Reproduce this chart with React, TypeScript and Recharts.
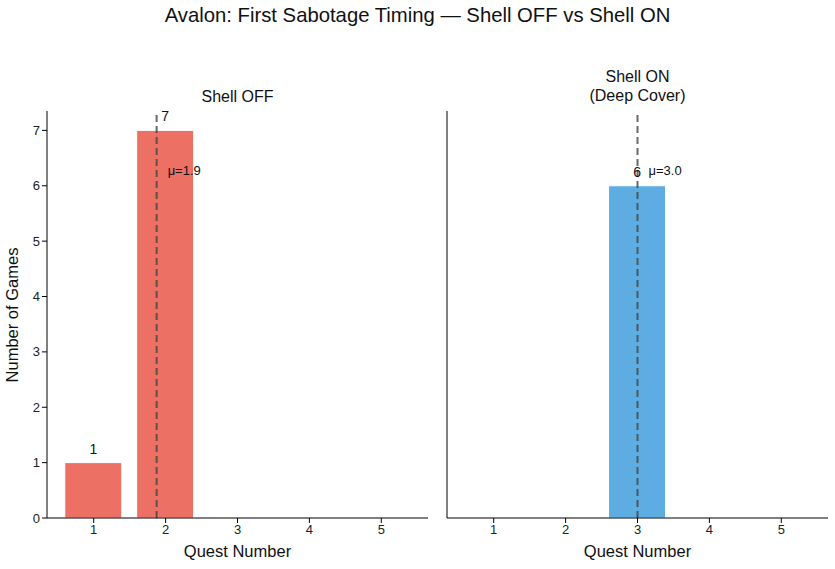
import React from 'react';
import {
  BarChart, Bar, XAxis, YAxis, ReferenceLine, LabelList,
} from 'recharts';

const quests = [1, 2, 3, 4, 5];
const shellOffCounts = [1, 7, 0, 0, 0];
const shellOnCounts = [0, 0, 6, 0, 0];
const yTicks = [0, 1, 2, 3, 4, 5, 6, 7];

const FONT = '"Liberation Sans", Arial, Helvetica, sans-serif';
const Y_MAX = 7.35;

const toRows = (counts: number[]) => quests.map((q, i) => ({ quest: q, count: counts[i] }));
const meanOf = (counts: number[]) => {
  const total = counts.reduce((a, b) => a + b, 0);
  return quests.reduce((s, q, i) => s + q * counts[i], 0) / total;
};

const ValueLabel = (props: any) => {
  const { x, y, width, value } = props;
  if (!value) return null;
  return (
    <text x={x + width / 2} y={y - 9} textAnchor="middle" fontSize={14} fill="#111" fontFamily={FONT}>
      {value}
    </text>
  );
};

type PanelProps = {
  counts: number[];
  color: string;
  showYLabels: boolean;
  width: number;
  margin: { top: number; right: number; bottom: number; left: number };
  yAxisWidth: number;
};

const Panel: React.FC<PanelProps> = ({ counts, color, showYLabels, width, margin, yAxisWidth }) => {
  const rows = toRows(counts);
  const mean = meanOf(counts);
  return (
    <BarChart width={width} height={569} data={rows} margin={margin}>
      <XAxis
        dataKey="quest"
        type="number"
        domain={[0.35, 5.65]}
        ticks={quests}
        allowDataOverflow
        tickSize={5}
        height={25}
        stroke="#000"
        tick={{ fill: '#222', fontSize: 13, fontFamily: FONT }}
        label={{ value: 'Quest Number', position: 'bottom', offset: 2, fill: '#111', fontSize: 16.5, fontFamily: FONT }}
      />
      <YAxis
        type="number"
        domain={[0, Y_MAX]}
        ticks={yTicks}
        allowDataOverflow
        tickSize={5}
        width={yAxisWidth}
        stroke="#000"
        tick={showYLabels ? { fill: '#222', fontSize: 13, fontFamily: FONT } : false}
      />
      <Bar dataKey="count" fill={color} stroke="#fff" strokeWidth={1} barSize={57} isAnimationActive={false}>
        <LabelList dataKey="count" content={ValueLabel} />
      </Bar>
      <ReferenceLine
        x={mean}
        stroke="#444"
        strokeOpacity={0.8}
        strokeWidth={2}
        strokeDasharray="7 4"
        label={(p: any) => {
          const vb = p.viewBox;
          return (
            <text
              x={vb.x + 11}
              y={vb.y + vb.height * 0.15 + 3}
              fontSize={13}
              fill="#111"
              fontFamily={FONT}
            >
              {`μ=${mean.toFixed(1)}`}
            </text>
          );
        }}
      />
    </BarChart>
  );
};

const textStyle: React.CSSProperties = {
  position: 'absolute',
  fontFamily: FONT,
  color: '#111',
  whiteSpace: 'nowrap',
  lineHeight: 1.2,
};

export default function App() {
  return (
    <div style={{ position: 'absolute', left: 0, top: 0, width: 835, height: 569, background: '#fff', overflow: 'hidden' }}>
      <div style={{ ...textStyle, left: 0, width: 835, top: 3, textAlign: 'center', fontSize: 20.3 }}>
        Avalon: First Sabotage Timing — Shell OFF vs Shell ON
      </div>
      <div style={{ ...textStyle, left: 47, width: 381, top: 87, textAlign: 'center', fontSize: 16 }}>
        Shell OFF
      </div>
      <div style={{ ...textStyle, left: 447, width: 381, top: 67, textAlign: 'center', fontSize: 16 }}>
        Shell ON<br />(Deep Cover)
      </div>
      <div
        style={{
          ...textStyle,
          left: 13,
          top: 315,
          fontSize: 16.5,
          transform: 'translate(-50%, -50%) rotate(-90deg)',
        }}
      >
        Number of Games
      </div>
      <div style={{ position: 'absolute', left: 0, top: 0 }}>
        <Panel
          counts={shellOffCounts}
          color="#ec7063"
          showYLabels
          width={440}
          yAxisWidth={40}
          margin={{ top: 111, right: 12, bottom: 26, left: 7 }}
        />
      </div>
      <div style={{ position: 'absolute', left: 440, top: 0 }}>
        <Panel
          counts={shellOnCounts}
          color="#5dade2"
          showYLabels={false}
          width={395}
          yAxisWidth={5}
          margin={{ top: 111, right: 7, bottom: 26, left: 2 }}
        />
      </div>
    </div>
  );
}
